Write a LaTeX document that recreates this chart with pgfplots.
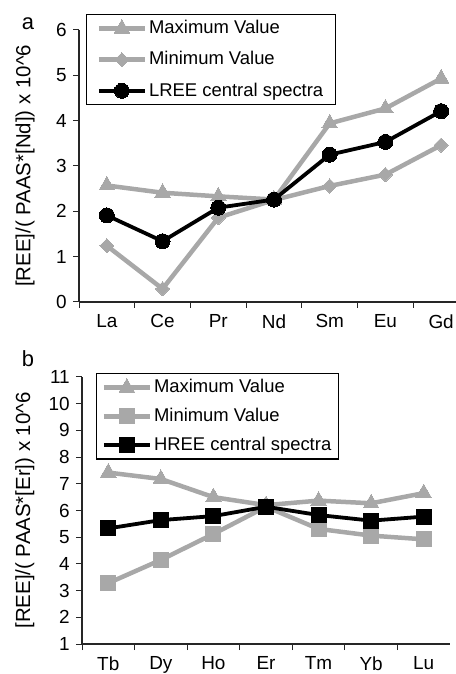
\documentclass[border=0pt]{standalone}
\usepackage{fontspec}
\setmainfont{Liberation Sans}
\usepackage{pgfplots}
\pgfplotsset{compat=1.18}
\definecolor{lgray}{RGB}{168,168,168}
\begin{document}
\fontsize{18.5}{21}\selectfont
\begin{tikzpicture}
\useasboundingbox (0bp,0bp) rectangle (456bp,674bp);
\pgfplotsset{
  every axis/.style={
    scale only axis,
    axis lines=left,
    axis line style={-,line width=1.1pt,black!85},
    xmin=-0.5,xmax=6.5,
    xtick={0,...,6},
    major x tick style={draw=none},
    minor xtick={-0.5,0.5,...,5.5},
    minor tick length=6bp,
    major tick length=6bp,
    tick style={line width=1bp,black!85},
    tick align=outside,
    /pgf/number format/assume math mode=true,
    ticklabel style={font=\fontsize{19}{21}\selectfont},
    ylabel style={font=\fontsize{20.5}{22}\selectfont},
    clip=false,
    legend cell align=left,
    legend style={draw=black,line width=1.2bp,font=\fontsize{18.5}{21}\selectfont,
      inner xsep=10bp,inner ysep=4bp,anchor=north west,
      nodes={inner xsep=2bp}},
    legend image code/.code={\draw[mark repeat=2,mark phase=2,##1] plot coordinates {(0bp,0bp) (23bp,0bp) (46bp,0bp)};},
  },
}
% Panel a
\begin{axis}[
  at={(79bp,372bp)},anchor=south west,
  width=390bp,height=272bp,
  ymin=0,ymax=6,ytick={0,...,6},
  xticklabels={La,Ce,Pr,Nd,Sm,Eu,Gd},
  ylabel={[REE]/( PAAS*[Nd]) x 10\textasciicircum 6},
  ylabel style={at={(axis description cs:-0.138,0.5)},anchor=center},
  legend style={at={(axis description cs:0.018,1.059)},row sep=11bp},
]
\addplot[lgray,line width=4.5bp,mark=triangle*,mark size=9bp,mark options={solid,line width=0pt}] coordinates {(0,2.57)(1,2.41)(2,2.33)(3,2.26)(4,3.94)(5,4.27)(6,4.93)};
\addlegendentry{Maximum Value}
\addplot[lgray,line width=4.5bp,mark=square*,mark size=5bp,mark options={solid,rotate=45,line width=0pt}] coordinates {(0,1.24)(1,0.29)(2,1.86)(3,2.25)(4,2.56)(5,2.81)(6,3.46)};
\addlegendentry{Minimum Value}
\addplot[black,line width=3.8bp,mark=*,mark size=7.5bp,mark options={solid,line width=0pt}] coordinates {(0,1.91)(1,1.34)(2,2.08)(3,2.26)(4,3.25)(5,3.53)(6,4.21)};
\addlegendentry{LREE central spectra}
\end{axis}
\node[font=\fontsize{22}{24}\selectfont] at (28bp,650bp) {a};
% Panel b
\begin{axis}[
  at={(82bp,30bp)},anchor=south west,
  width=368bp,height=267bp,
  ymin=1,ymax=11,ytick={1,...,11},
  xticklabels={Tb,Dy,Ho,Er,Tm,Yb,Lu},
  ylabel={[REE]/( PAAS*[Er]) x 10\textasciicircum 6},
  ylabel style={at={(axis description cs:-0.155,0.5)},anchor=center},
  legend style={at={(axis description cs:0.038,1.015)},row sep=8.5bp,inner xsep=5bp},
]
\addplot[lgray,line width=4.5bp,mark=triangle*,mark size=9bp,mark options={solid,line width=0pt}] coordinates {(0,7.42)(1,7.18)(2,6.5)(3,6.2)(4,6.37)(5,6.27)(6,6.65)};
\addlegendentry{Maximum Value}
\addplot[lgray,line width=4.5bp,mark=square*,mark size=7.5bp,mark options={solid,line width=0pt}] coordinates {(0,3.28)(1,4.15)(2,5.12)(3,6.14)(4,5.31)(5,5.06)(6,4.92)};
\addlegendentry{Minimum Value}
\addplot[black,line width=3.8bp,mark=square*,mark size=7.5bp,mark options={solid,line width=0pt}] coordinates {(0,5.33)(1,5.64)(2,5.79)(3,6.14)(4,5.83)(5,5.62)(6,5.77)};
\addlegendentry{HREE central spectra}
\end{axis}
\node[font=\fontsize{22}{24}\selectfont] at (28bp,315bp) {b};
\end{tikzpicture}
\end{document}
